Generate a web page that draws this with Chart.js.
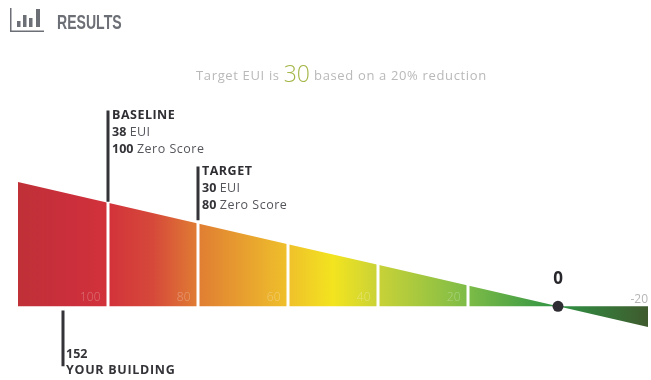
<!DOCTYPE html>
<html><head><meta charset="utf-8">
<style>
html,body{margin:0;padding:0;background:#fff;width:651px;height:380px;overflow:hidden}
#wrap{position:relative;width:651px;height:380px}
canvas{position:absolute;left:0;top:0}
#icon{position:absolute;left:0;top:0}
#head{position:absolute;left:57px;top:8px;font:700 21px "Liberation Sans",sans-serif;color:#6c6f75;line-height:28px;transform:scaleX(.67);transform-origin:left center}
#sub{position:absolute;left:196px;top:57px;white-space:nowrap;font:400 13px "Open Sans",sans-serif;color:#b9b9b9;letter-spacing:.65px;line-height:28px}
#sub b{font:300 23px "Open Sans",sans-serif;color:#a3b647;letter-spacing:0;vertical-align:-2px}
</style></head><body><div id="wrap">
<canvas id="c" width="651" height="380"></canvas>
<svg id="icon" width="60" height="40"><g fill="#6c6f75"><rect x="10" y="8" width="1.5" height="24"/><rect x="10" y="30.5" width="34" height="1.5"/><rect x="17" y="21" width="3.5" height="6"/><rect x="23" y="15" width="3.5" height="12"/><rect x="29" y="18" width="3.5" height="9"/><rect x="36" y="9" width="4" height="18"/></g></svg>
<div id="head">RESULTS</div>
<div id="sub">Target EUI is <b>30</b> based on a 20% reduction</div>
</div>
<script src="https://cdn.jsdelivr.net/npm/chart.js@4"></script>
<script>
// Data
const wedgeScores = [120, 100, 80, 60, 40, 20, 0, -20];
const wedgeValues = [120, 100, 80, 60, 40, 20, 0, -20];
const dividerScores = [100, 80, 60, 40, 20];
const tickLabels = ['100', '80', '60', '40', '20'];
const gradientScores = [120, 108, 100, 90, 80, 60, 50, 40, 20, 0, -20];
const gradientColors = ['#bf3037', '#cb2f3b', '#d2323a', '#d6493a', '#e07d33', '#efc02b', '#f3e41f', '#c9d237', '#7dbc47', '#2f9344', '#3f5a2e'];
const baselineScore = 100, baselineLine = [189, 101];
const targetScore = 80, targetLine = [135, 83];
const buildingScore = 110, buildingLine = [-4, -58];
const baselineText = ['BASELINE', '38', '100'];
const targetText = ['TARGET', '30', '80'];
const buildingText = ['152', 'YOUR BUILDING'];

const ink = '#333338';
function vline(x, ys) {
  return {data: ys.map(y => ({x, y})), borderColor: ink, borderWidth: 3, pointRadius: 0, fill: false, clip: false, order: 1};
}
const dividers = [];
dividerScores.forEach(s => { dividers.push({x: s, y: -0.6}, {x: s, y: s + 1.5}, {x: s, y: null}); });

const annot = {
  id: 'annot',
  afterDatasetsDraw(chart) {
    const {ctx, scales: {x, y}} = chart;
    ctx.save();
    ctx.textBaseline = 'middle';
    const sans = '"Open Sans",sans-serif';
    function t(s, px, py, font, col, ls, align) {
      ctx.font = font; ctx.fillStyle = col; ctx.letterSpacing = ls || '0px'; ctx.textAlign = align || 'left';
      ctx.fillText(s, px, py);
      return ctx.measureText(s).width;
    }
    const b = '700 12.5px ' + sans, r = '400 12.5px ' + sans;
    function block(score, top, lines) {
      const px = x.getPixelForValue(score) + 4;
      t(lines[0], px, top, b, '#2e2e33', '.5px');
      let w = t(lines[1], px, top + 17, b, '#333338');
      t('EUI', px + w + 3.5, top + 17, r, '#55565c', '.3px');
      w = t(lines[2], px, top + 34, b, '#333338');
      t('Zero Score', px + w + 3.5, top + 34, r, '#55565c', '.5px');
    }
    block(baselineScore, 115.5, baselineText);
    block(targetScore, 171.5, targetText);
    const bx = x.getPixelForValue(buildingScore) + 3;
    t(buildingText[0], bx, 354.5, b, '#333338');
    t(buildingText[1], bx, 370.5, b, '#333338', '.7px');
    dividerScores.forEach((s, i) => {
      t(tickLabels[i], x.getPixelForValue(s) - 7.5, y.getPixelForValue(0) - 9, '300 12px ' + sans, 'rgba(255,255,255,.3)', '0px', 'right');
    });
    t('-20', x.getPixelForValue(-20), y.getPixelForValue(0) - 7, '400 12px ' + sans, '#b5b5b5', '0px', 'right');
    t('0', x.getPixelForValue(0), y.getPixelForValue(0) - 27, '700 17px ' + sans, '#26262b', '0px', 'center');
    ctx.restore();
  }
};

new Chart(document.getElementById('c'), {
  type: 'line',
  data: {
    datasets: [
      {data: [{x: 0, y: 0}], pointRadius: 5.5, pointBackgroundColor: '#2d2d33', pointBorderWidth: 0, showLine: false, clip: false, order: 0},
      vline(baselineScore, baselineLine),
      vline(targetScore, targetLine),
      vline(buildingScore, buildingLine),
      {data: dividers, borderColor: '#fff', borderWidth: 3, pointRadius: 0, fill: false, spanGaps: false, clip: false, order: 2},
      {
        data: wedgeScores.map((s, i) => ({x: s, y: wedgeValues[i]})),
        fill: 'origin', borderWidth: 0, pointRadius: 0, tension: 0, order: 3,
        backgroundColor(ctx) {
          const ch = ctx.chart;
          if (!ch.chartArea || !ch.scales.x) return '#d2323a';
          const sx = ch.scales.x, a = sx.getPixelForValue(120), z = sx.getPixelForValue(-20);
          const g = ch.ctx.createLinearGradient(a, 0, z, 0);
          gradientScores.forEach((s, i) => g.addColorStop((sx.getPixelForValue(s) - a) / (z - a), gradientColors[i]));
          return g;
        }
      }
    ]
  },
  options: {
    responsive: false, animation: false, parsing: false, normalized: false,
    layout: {autoPadding: false, padding: {left: 18, right: 3, top: 182, bottom: 53}},
    plugins: {legend: {display: false}, tooltip: {enabled: false}, title: {display: false}},
    scales: {
      x: {type: 'linear', min: -20, max: 120, reverse: true, display: false},
      y: {type: 'linear', min: -20, max: 120, display: false}
    }
  },
  plugins: [annot]
});
</script></body></html>
